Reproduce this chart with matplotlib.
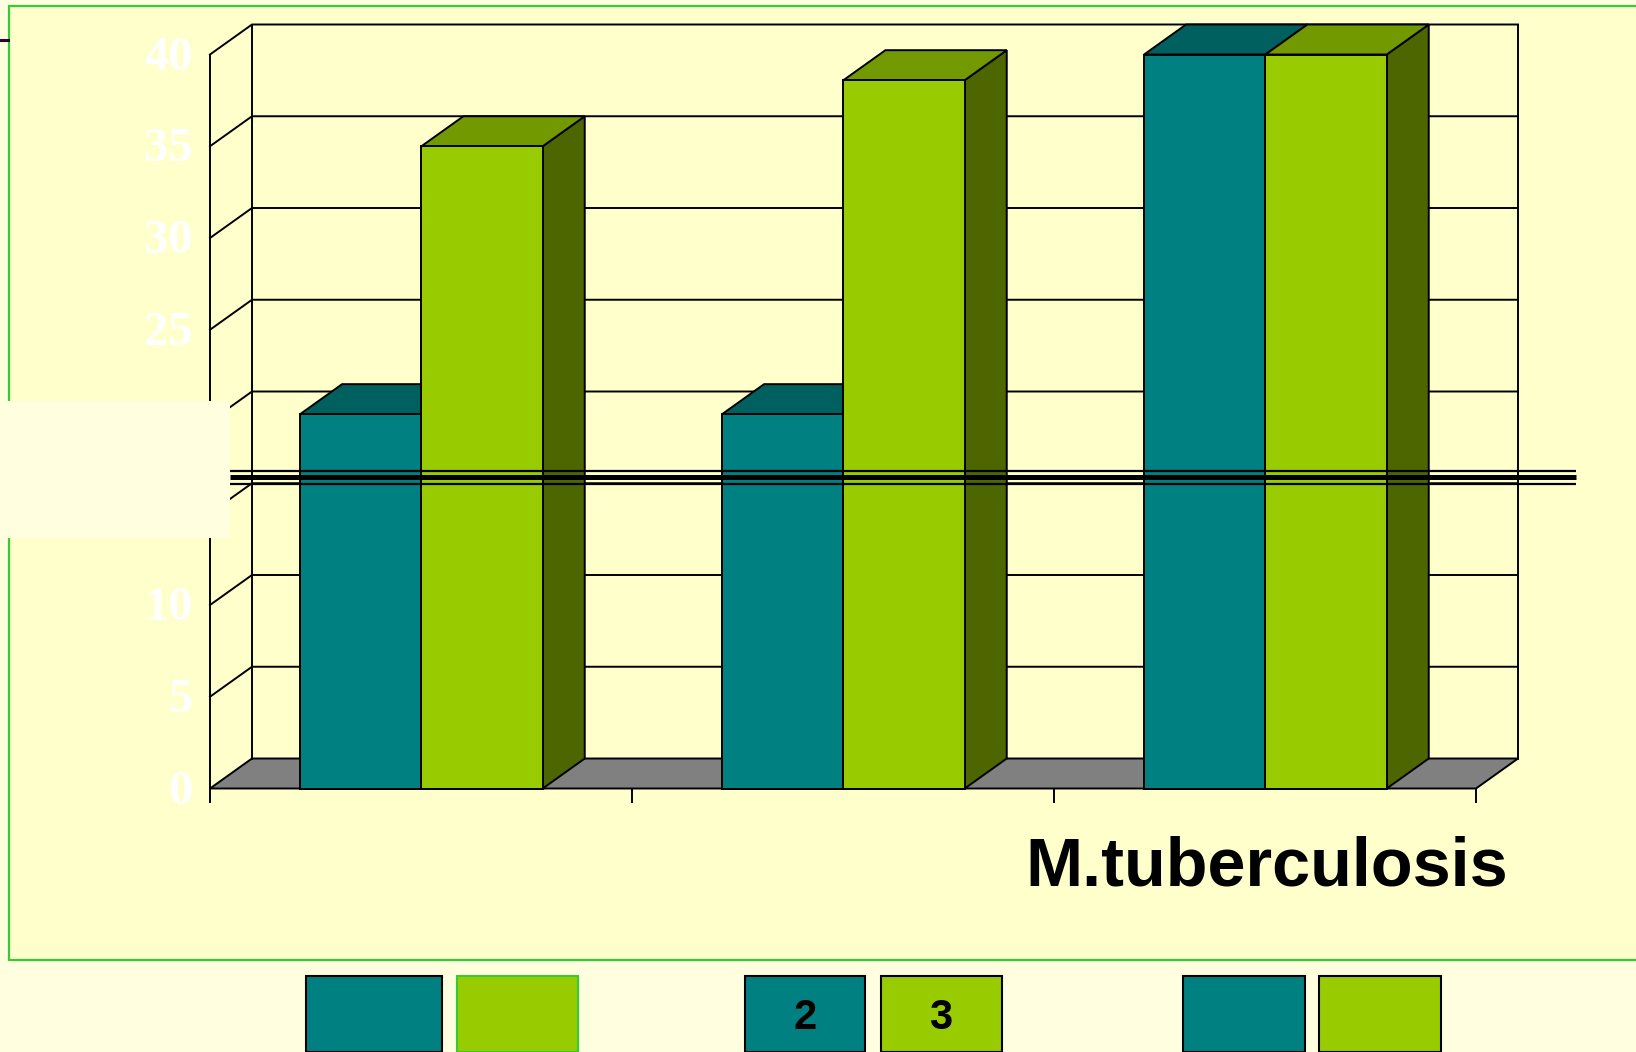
import matplotlib.pyplot as plt
from matplotlib.patches import Rectangle
from matplotlib.transforms import Affine2D

# valores
categorias = [0, 1, 2]
serie_teal = [20.4, 20.4, 40]
serie_verde = [35, 38.6, 40]
y_ticks = [0, 5, 10, 15, 20, 25, 30, 35, 40]
x_ticks = [0, 1, 2, 3]
rotulo_x = 'M.tuberculosis'

# tamanho da imagem e escala do grafico em pixels
W, H = 1636, 1052
X0, Y0 = 210, 788.5
PX_CAT, PX_UN = 422, 18.35
# profundidade do efeito 3D
DX, DY = 42 / PX_CAT, 30 / PX_UN
BAR_OFF, BAR_W = 0.2135, 0.2875
LW = 1.4

TEAL = ('#008080', '#006060', '#004040')
VERDE = ('#99CC00', '#739900', '#4D6600')
FUNDO = '#FFFFE0'
PAINEL = '#FFFFCC'
VERDE_BORDA = '#33CC33'

fig = plt.figure(figsize=(W / 100, H / 100), dpi=100, facecolor=FUNDO)
ax = fig.add_axes([0, 0, 1, 1])
ax.set_xlim(-X0 / PX_CAT, (W - X0) / PX_CAT)
ax.set_ylim((Y0 - H) / PX_UN, Y0 / PX_UN)
ax.axis('off')

# transformacao para os elementos fora do grafico (pixels da imagem)
px = Affine2D().scale(1 / W, -1 / H).translate(0, 1) + fig.transFigure

# painel amarelo
ax.add_patch(Rectangle((9, 6), W, 954, transform=px, facecolor=PAINEL,
                       edgecolor=VERDE_BORDA, linewidth=1.6, zorder=0))
ax.plot([0, 8], [40, 40], transform=px, color='#330033', lw=2.2, zorder=1)

# piso
xmax = x_ticks[-1]
ax.fill([0, DX, xmax + DX, xmax], [0, DY, DY, 0], facecolor='#808080',
        edgecolor='black', linewidth=LW, zorder=1)

# grade: parede esquerda e parede do fundo
topo = y_ticks[-1]
for v in y_ticks[1:]:
    ax.plot([0, DX, xmax + DX], [v, v + DY, v + DY], color='black', lw=LW, zorder=1)
ax.plot([0, 0], [-13 / PX_UN, topo], color='black', lw=LW, zorder=1)
ax.plot([DX, DX], [DY, topo + DY], color='black', lw=LW, zorder=1)
ax.plot([xmax + DX, xmax + DX], [DY, topo + DY], color='black', lw=LW, zorder=1)

# marcas do eixo x
for t in x_ticks[1:]:
    ax.plot([t, t], [-13 / PX_UN, 0], color='black', lw=LW, zorder=1)


def barra_3d(x, valor, cores, z):
    ax.fill([x + BAR_W, x + BAR_W + DX, x + BAR_W + DX, x + BAR_W],
            [0, DY, valor + DY, valor], facecolor=cores[2], edgecolor='black',
            linewidth=LW, zorder=z)
    ax.fill([x, x + DX, x + BAR_W + DX, x + BAR_W],
            [valor, valor + DY, valor + DY, valor], facecolor=cores[1],
            edgecolor='black', linewidth=LW, zorder=z)
    ax.bar(x, valor, width=BAR_W, align='edge', color=cores[0], edgecolor='black',
           linewidth=LW, zorder=z)


for i, c in enumerate(categorias):
    barra_3d(c + BAR_OFF, serie_teal[i], TEAL, 2 + i * 0.1)
    barra_3d(c + BAR_OFF + BAR_W, serie_verde[i], VERDE, 3 + i * 0.1)

# rotulos do eixo y
for v in y_ticks:
    ax.text(-17 / PX_CAT, v + 2 / PX_UN, str(v), color='white', family='Liberation Serif',
            fontweight='bold', fontsize=35, ha='right', va='center_baseline', zorder=4)

# rotulo do eixo x
ax.text(1508, 886, rotulo_x, transform=px, family='Liberation Sans', fontweight='bold',
        fontsize=49.2, ha='right', va='baseline', color='black', zorder=4)

# tres linhas horizontais
for y, lw in [(470.7, 1.6), (477.3, 3.6), (484, 1.6)]:
    ax.plot([230, 1576], [y, y], transform=px, color='black', lw=lw,
            solid_capstyle='butt', zorder=6)

# caixa clara sobre o eixo
ax.add_patch(Rectangle((0, 401), 230, 136.5, transform=px, facecolor=FUNDO,
                       edgecolor='none', zorder=7))

# caixas de baixo
caixas = [(305.5, 442, TEAL[0], 'black', ''), (456.5, 578, VERDE[0], VERDE_BORDA, ''),
          (744.5, 865, TEAL[0], 'black', '2'), (880.5, 1001.5, VERDE[0], 'black', '3'),
          (1183, 1304.5, TEAL[0], 'black', ''), (1319, 1440.5, VERDE[0], 'black', '')]
for x1, x2, cor, borda, txt in caixas:
    ax.add_patch(Rectangle((x1, 976), x2 - x1, 75.5, transform=px, facecolor=cor,
                           edgecolor=borda, linewidth=1.5, zorder=7))
    if txt:
        ax.text((x1 + x2) / 2, 1018, txt, transform=px, family='Liberation Sans',
                fontweight='bold', fontsize=30, ha='center', va='center', zorder=8)

fig.savefig('out.png', dpi=100, facecolor=FUNDO)
